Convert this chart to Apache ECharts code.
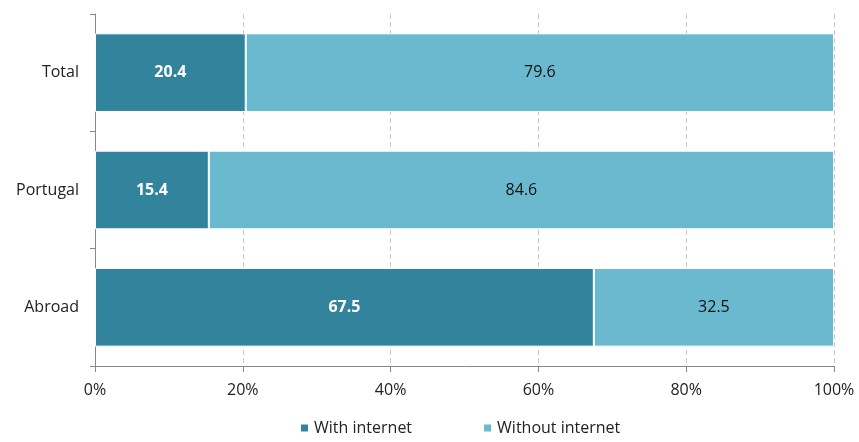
<!DOCTYPE html>
<html><head><meta charset="utf-8">
<script src="https://cdn.jsdelivr.net/npm/echarts@6/dist/echarts.min.js"></script>
<style>html,body{margin:0;padding:0;background:#fff}#c{width:859px;height:442px}</style>
</head><body><div id="c"></div>
<script>
const categories = ['Abroad', 'Portugal', 'Total'];
const withInternet = [67.5, 15.4, 20.4];
const withoutInternet = [32.5, 84.6, 79.6];
const seriesNames = ['With internet', 'Without internet'];
const xTicks = [0, 20, 40, 60, 80, 100];

const chart = echarts.init(document.getElementById('c'));
const font = '"Open Sans", "Noto Sans", sans-serif';
const fs = 16;
chart.setOption({
  animation: false,
  textStyle: { fontFamily: font },
  grid: { left: 95, right: 25, top: 14, bottom: 76 },
  legend: {
    data: seriesNames,
    top: 420,
    left: 299,
    padding: 0,
    itemWidth: 9, itemHeight: 9, itemGap: 70,
    icon: 'rect',
    textStyle: { fontFamily: font, fontSize: fs, color: '#222' }
  },
  xAxis: {
    type: 'value', min: xTicks[0], max: xTicks[xTicks.length - 1], interval: 20,
    axisLine: { show: true, lineStyle: { color: '#888' } },
    axisTick: { show: true, length: 6, lineStyle: { color: '#888' } },
    axisLabel: { formatter: '{value}%', color: '#222', fontSize: fs, margin: 16, fontFamily: font },
    splitLine: { show: true, lineStyle: { color: '#c8c8c8', type: [5, 3] } }
  },
  yAxis: {
    type: 'category', data: categories,
    axisLine: { show: true, lineStyle: { color: '#888' } },
    axisTick: { show: true, length: 5, lineStyle: { color: '#888' } },
    axisLabel: { color: '#222', fontSize: fs, margin: 16, fontFamily: font }
  },
  series: [
    {
      name: seriesNames[0], type: 'bar', stack: 's', data: withInternet,
      barWidth: '67%',
      itemStyle: { color: '#31849b', borderColor: '#fff', borderWidth: 1 },
      label: { show: true, position: 'inside', color: '#fff', fontWeight: 'bold', fontSize: fs, fontFamily: font,
        formatter: p => p.value.toFixed(1) }
    },
    {
      name: seriesNames[1], type: 'bar', stack: 's', data: withoutInternet,
      barWidth: '67%',
      itemStyle: { color: '#6ab9cf', borderColor: '#fff', borderWidth: 1 },
      label: { show: true, position: 'inside', color: '#111', fontSize: fs, fontFamily: font,
        formatter: p => p.value.toFixed(1) }
    }
  ]
});
</script></body></html>
